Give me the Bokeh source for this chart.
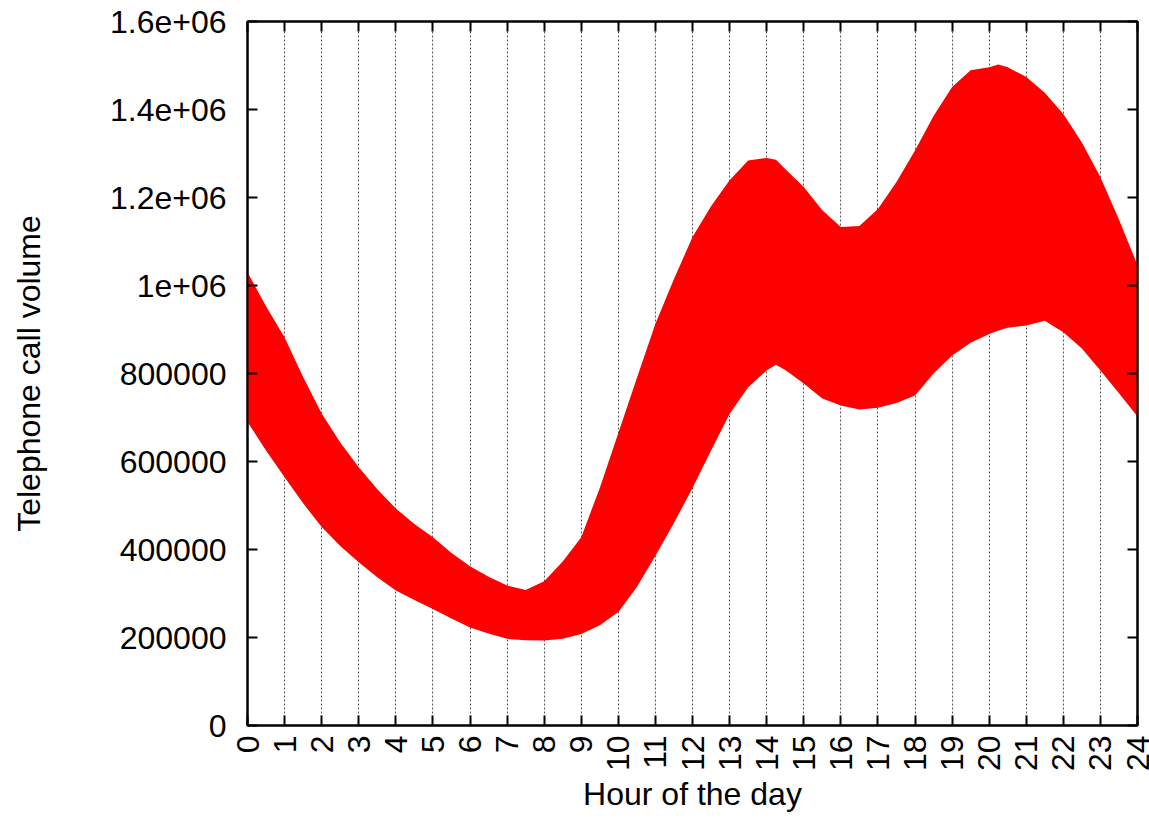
import math
from bokeh.plotting import figure
from bokeh.models import LinearAxis, FixedTicker, Range1d
from bokeh.embed import file_html
from bokeh.resources import INLINE

# Data
hours = [0, 0.5, 1, 1.5, 2, 2.5, 3, 3.5, 4, 4.5, 5, 5.5, 6, 6.5, 7, 7.5, 8, 8.5, 9, 9.5,
         10, 10.5, 11, 11.5, 12, 12.5, 13, 13.5, 14, 14.25, 14.5, 15, 15.5, 16, 16.5, 17, 17.5,
         18, 18.5, 19, 19.5, 20, 20.25, 20.5, 21, 21.5, 22, 22.5, 23, 23.5, 24]
upper = [1030000, 953000, 882000, 792000, 709000, 643000, 587000, 537000, 493000, 458000,
         428000, 392000, 362000, 338000, 318000, 308000, 328000, 373000, 428000, 540000,
         665000, 790000, 913000, 1015000, 1110000, 1180000, 1239000, 1284000, 1290000, 1286000,
         1265000, 1224000, 1171000, 1133000, 1135000, 1174000, 1235000, 1307000, 1385000, 1451000,
         1489000, 1496000, 1502000, 1496000, 1474000, 1438000, 1390000, 1325000, 1246000, 1150000,
         1046000]
lower = [690000, 625000, 564000, 505000, 451000, 408000, 371000, 337000, 307000, 285000,
         265000, 243000, 223000, 209000, 197000, 194000, 193000, 197000, 208000, 228000,
         258000, 315000, 386000, 460000, 540000, 625000, 708000, 769000, 807000, 820000,
         808000, 777000, 743000, 727000, 718000, 722000, 733000, 750000, 800000, 841000,
         870000, 890000, 898000, 904000, 909000, 920000, 894000, 857000, 807000, 755000,
         702000]

x_ticks = list(range(0, 25))
y_ticks = [0, 200000, 400000, 600000, 800000, 1000000, 1200000, 1400000, 1600000]
y_tick_labels = ["0", "200000", "400000", "600000", "800000", "1e+06", "1.2e+06", "1.4e+06", "1.6e+06"]

FONT = "Liberation Sans"
FS = "32px"

p = figure(width=1149, height=819, output_backend="svg", toolbar_location=None,
           x_range=Range1d(0, 24), y_range=Range1d(0, 1600000),
           min_border_left=247, min_border_right=12, min_border_top=21, min_border_bottom=94)

p.varea(x=hours, y1=lower, y2=upper, fill_color="#ff0000", fill_alpha=1.0)

# Grid
p.ygrid.visible = False
p.xgrid.ticker = FixedTicker(ticks=x_ticks)
p.xgrid.grid_line_color = "#555555"
p.xgrid.grid_line_dash = "2 2"
p.xgrid.grid_line_width = 1

p.outline_line_color = "black"
p.outline_line_width = 2
p.background_fill_color = "white"
p.border_fill_color = "white"

overrides = {t: lab for t, lab in zip(y_ticks, y_tick_labels)}

# Bottom axis
xa = p.xaxis[0]
xa.ticker = FixedTicker(ticks=x_ticks)
xa.major_label_orientation = math.pi / 2
xa.axis_label = "Hour of the day"
xa.axis_label_text_font = FONT
xa.axis_label_text_font_size = FS
xa.axis_label_text_font_style = "normal"
xa.axis_label_text_color = "black"
xa.major_label_text_font = FONT
xa.major_label_text_font_size = FS
xa.major_label_text_color = "black"
xa.major_label_standoff = 10
xa.axis_label_standoff = 2
xa.major_tick_in = 10
xa.major_tick_out = 0
xa.minor_tick_line_color = None
xa.axis_line_width = 2
xa.major_tick_line_width = 2

# Left axis
ya = p.yaxis[0]
ya.ticker = FixedTicker(ticks=y_ticks)
ya.major_label_overrides = overrides
ya.axis_label = "Telephone call volume"
ya.axis_label_text_font = FONT
ya.axis_label_text_font_size = FS
ya.axis_label_text_font_style = "normal"
ya.axis_label_text_color = "black"
ya.major_label_text_font = FONT
ya.major_label_text_font_size = FS
ya.major_label_text_color = "black"
ya.major_label_standoff = 21
ya.axis_label_standoff = 60
ya.major_tick_in = 10
ya.major_tick_out = 0
ya.minor_tick_line_color = None
ya.axis_line_width = 2
ya.major_tick_line_width = 2

# Mirror axes (ticks only, no labels)
top = LinearAxis(ticker=FixedTicker(ticks=x_ticks),
                 major_label_overrides={t: "" for t in x_ticks},
                 major_label_text_color=None,
                 major_label_standoff=0, major_tick_in=10, major_tick_out=0,
                 minor_tick_line_color=None, axis_line_width=2, major_tick_line_width=2)
right = LinearAxis(ticker=FixedTicker(ticks=y_ticks),
                   major_label_overrides={t: "" for t in y_ticks},
                   major_label_text_color=None,
                   major_label_standoff=0, major_tick_in=10, major_tick_out=0,
                   minor_tick_line_color=None, axis_line_width=2, major_tick_line_width=2)
p.add_layout(top, "above")
p.add_layout(right, "right")

open("out.html", "w").write(file_html(p, INLINE))
